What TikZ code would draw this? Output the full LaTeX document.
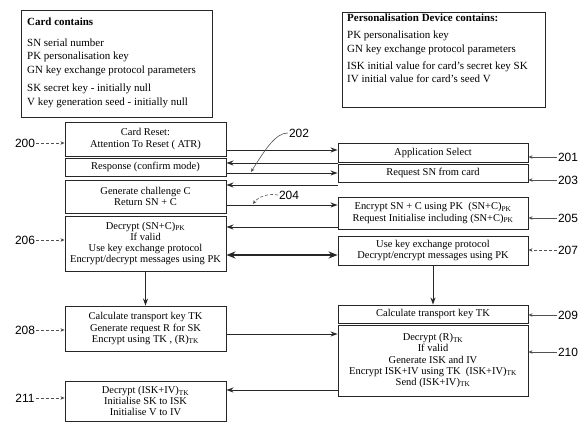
\documentclass[tikz,border=0pt]{standalone}
\usepackage{fontspec}
\setmainfont{Liberation Serif}
\setsansfont{Liberation Sans}
\usepackage{xcolor}
\usetikzlibrary{arrows.meta,positioning,calc}
\definecolor{scanink}{HTML}{262626}

\tikzset{
  stepbox/.style={draw=scanink, line width=0.9bp, align=center, inner sep=1bp,
    font=\fontsize{10.5}{11.2}\selectfont},
  cardcol/.style={stepbox, minimum width=161bp},
  devcol/.style={stepbox, minimum width=190bp},
  infobox/.style={draw=scanink, line width=0.9bp, anchor=north west},
  infotext/.style={anchor=north west, align=left, inner sep=0pt,
    font=\fontsize{11}{13.5}\selectfont},
  refnum/.style={font=\sffamily\fontsize{12}{12}\selectfont, inner sep=1bp},
  flow/.style={draw=scanink, line width=1bp, -{Stealth[length=7bp,width=5bp]}},
  twoway/.style={draw=scanink, line width=1.6bp,
    {Stealth[length=9bp,width=7bp]}-{Stealth[length=9bp,width=7bp]}},
  lead/.style={draw=scanink!80, line width=0.6bp, -{Stealth[length=4bp,width=3.5bp]}}
}

\begin{document}
\begin{tikzpicture}[x=1bp,y=-1bp]
        \useasboundingbox (0,0) rectangle (580,423);
        % contents of card and device
        \node[infobox, minimum width=191bp, minimum height=107bp] (cardbox) at (21,10) {};
        \node[infotext] (cardtxt) at ([xshift=6bp,yshift=-8bp]cardbox.north west)
          {\textbf{Card contains}\\[7bp]
           SN serial number\\
           PK personalisation key\\
           GN key exchange protocol parameters\\[5bp]
           SK secret key - initially null\\
           V key generation seed - initially null};
        \node[infobox, minimum width=203bp, minimum height=95bp] (devbox) at (342,12) {};
        \node[infotext] (devtxt) at ([xshift=5bp,yshift=-2bp]devbox.north west)
          {\textbf{Personalisation Device contains:}\\[3.5bp]
           PK personalisation key\\
           GN key exchange protocol parameters\\[3.5bp]
           ISK initial value for card's secret key SK\\
           IV initial value for card's seed V};
        % card side
        \node[cardcol, minimum height=34bp] (reset) at (145.5,139) {Card Reset:\\Attention To Reset ( ATR)};
        \node[cardcol, minimum height=18bp] (resp) at (145.5,167) {Response (confirm mode)};
        \node[cardcol, minimum height=33bp] (chal) at (145.5,196.5) {Generate challenge C\\Return SN + C};
        \node[cardcol, minimum height=55bp] (deccard) at (145.5,243.5)
          {Decrypt (SN+C)\textsubscript{PK}\\If valid\\Use key exchange protocol\\Encrypt/decrypt messages using PK};
        \node[cardcol, minimum height=45bp] (tkcard) at (145.5,328.5)
          {Calculate transport key TK\\Generate request R for SK\\Encrypt using TK , (R)\textsubscript{TK}};
        \node[cardcol, minimum height=40bp] (init) at (145.5,401)
          {Decrypt (ISK+IV)\textsubscript{TK}\\Initialise SK to ISK\\Initialise V to IV};
        % device side
        \node[devcol, minimum height=19bp] (appsel) at (433,152.5) {Application Select};
        \node[devcol, minimum height=18bp] (reqsn) at (433,173) {Request SN from card};
        \node[devcol, minimum height=32bp] (encsn) at (433,213)
          {Encrypt SN + C using PK\ \ (SN+C)\textsubscript{PK}\\Request Initialise including (SN+C)\textsubscript{PK}};
        \node[devcol, minimum height=29bp] (kexdev) at (433,250.5)
          {Use key exchange protocol\\Decrypt/encrypt messages using PK};
        \node[devcol, minimum height=18bp] (tkdev) at (433,314) {Calculate transport key TK};
        \node[devcol, minimum height=71bp] (sendisk) at (433,360.5)
          {Decrypt (R)\textsubscript{TK}\\If valid\\Generate ISK and IV\\
           Encrypt ISK+IV using TK\ \ (ISK+IV)\textsubscript{TK}\\Send (ISK+IV)\textsubscript{TK}};
        % messages between card and device
        \draw[flow] (reset.east |- 0,150) -- (appsel.west |- 0,150);
        \draw[flow] (appsel.west |- 0,163) -- (resp.east |- 0,163);
        \draw[flow] (resp.east |- 0,173) -- (reqsn.west |- 0,173);
        \draw[flow] (reqsn.west |- 0,185) -- (chal.east |- 0,185);
        \draw[flow] (chal.east |- 0,205) -- (encsn.west |- 0,205);
        \draw[flow] (encsn.west |- 0,227) -- (deccard.east |- 0,227);
        \draw[twoway] (deccard.east |- 0,255) -- (kexdev.west |- 0,255);
        \draw[flow] (deccard.south) -- (tkcard.north);
        \draw[flow] (kexdev.south) -- (tkdev.north);
        \draw[flow] (tkcard.east |- 0,334) -- (sendisk.west |- 0,334);
        \draw[flow] (sendisk.west |- 0,390) -- (init.east |- 0,390);
        % reference numbers
        \foreach \n/\yy/\b in {201/157/appsel,203/180/reqsn,205/218/encsn,209/315/tkdev,210/352/sendisk} {
          \node[refnum] (n\n) at (568,\yy) {\n};
          \draw[lead] (n\n.west) -- (\b.east |- n\n.west);
        }
        \node[refnum] (n207) at (568,250) {207};
        \draw[lead, densely dashed] (n207.west) -- (kexdev.east |- n207.west);
        \foreach \n/\yy/\b in {200/143/reset,206/240/deccard,208/330/tkcard,211/398/init} {
          \node[refnum] (n\n) at (25,\yy) {\n};
          \draw[lead, densely dashed] (n\n.east) -- (\b.west |- n\n.east);
        }
        \node[refnum] (n202) at (299,133) {202};
        \coordinate (p202) at (251,172);
        \draw[lead] (n202.west) .. controls (276,133) and (266,148) .. (p202);
        \node[refnum] (n204) at (289,195) {204};
        \coordinate (p204) at (253,204);
        \draw[lead, densely dashed] (n204.west) .. controls (268,193) and (258,197) .. (p204);
\end{tikzpicture}
\end{document}
